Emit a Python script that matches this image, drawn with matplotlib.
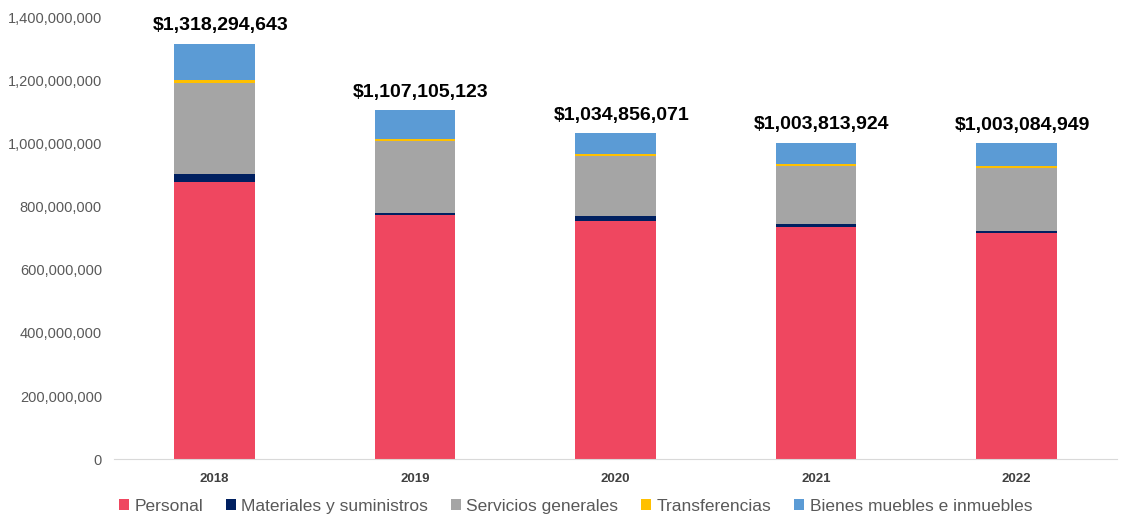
import numpy as np
import matplotlib.pyplot as plt
from matplotlib.ticker import FuncFormatter

years = ["2018", "2019", "2020", "2021", "2022"]
personal = [878e6, 775e6, 757e6, 738e6, 717e6]
materiales = [26e6, 6e6, 15e6, 8e6, 8e6]
servicios = [291e6, 230e6, 190e6, 184e6, 199e6]
transferencias = [8e6, 4e6, 6e6, 6e6, 6e6]
bienes = [115e6, 92e6, 67e6, 68e6, 73e6]
totales = [1318294643, 1107105123, 1034856071, 1003813924, 1003084949]

series = [personal, materiales, servicios, transferencias, bienes]
nombres = ["Personal", "Materiales y suministros", "Servicios generales",
           "Transferencias", "Bienes muebles e inmuebles"]
colores = ["#EF4760", "#002060", "#A5A5A5", "#FFC000", "#5B9BD5"]

plt.rcParams['font.family'] = ['Liberation Sans', 'DejaVu Sans']

fig = plt.figure(figsize=(11.31, 5.14), dpi=100)
ax = fig.add_axes([0.1012, 0.107, 0.886, 0.858])

x = np.arange(len(years))
base = np.zeros(len(years))
for vals, nom, col in zip(series, nombres, colores):
  ax.bar(x, vals, 0.403, bottom=base, color=col, label=nom)
  base = base + np.array(vals)

for i, t in enumerate(totales):
  ax.text(x[i] + 0.03, t + 30e6, "${:,}".format(t), ha="center", va="bottom",
          fontsize=14, fontweight="bold", color="black")

ax.set_xlim(-0.5, len(years) - 0.5)
ax.set_ylim(0, 1.4e9)
ax.set_yticks(np.arange(0, 1.41e9, 2e8))
ax.yaxis.set_major_formatter(FuncFormatter(lambda v, p: "{:,.0f}".format(v)))
ax.set_xticks(x)
ax.set_xticklabels(years, fontweight="bold")
ax.tick_params(axis="y", length=0, labelsize=10.5, labelcolor="#595959", pad=9)
ax.tick_params(axis="x", length=0, labelsize=9.5, labelcolor="#404040", pad=10)

for s in ["top", "right", "left"]:
  ax.spines[s].set_visible(False)
ax.spines["bottom"].set_color("#D9D9D9")

ax.legend(loc="lower center", bbox_to_anchor=(0.46, -0.16), ncol=5, frameon=False,
          fontsize=12.5, handlelength=0.6, handleheight=0.6, handletextpad=0.3,
          columnspacing=1.3, labelcolor="#595959")

fig.savefig("out.png", dpi=100)
